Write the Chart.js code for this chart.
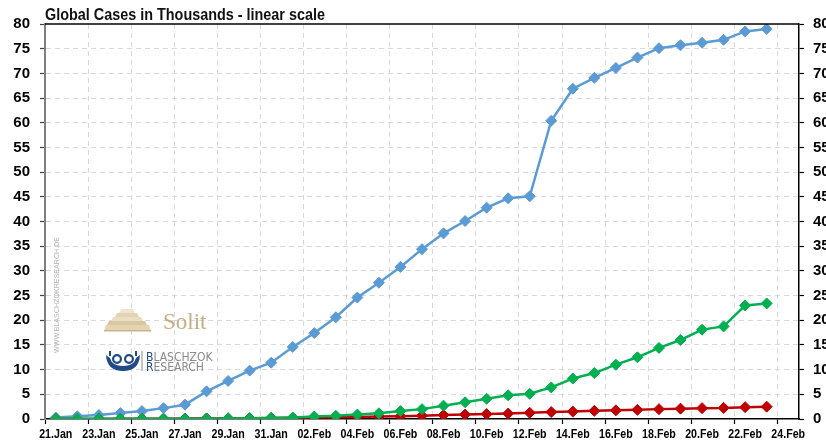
<!DOCTYPE html>
<html>
<head>
<meta charset="utf-8">
<script src="https://cdn.jsdelivr.net/npm/chart.js@4"></script>
<style>
  html, body { margin: 0; padding: 0; background: #fff; overflow: hidden; width: 826px; height: 441px; }
  #wrap { position: relative; width: 860px; height: 441px; }
</style>
</head>
<body>
<div id="wrap"><canvas id="c" width="860" height="441"></canvas></div>
<script>
// Daily dates on the category axis (the last one carries no data)
const categories = [
  '21.Jan','22.Jan','23.Jan','24.Jan','25.Jan','26.Jan','27.Jan','28.Jan','29.Jan','30.Jan','31.Jan',
  '01.Feb','02.Feb','03.Feb','04.Feb','05.Feb','06.Feb','07.Feb','08.Feb','09.Feb','10.Feb',
  '11.Feb','12.Feb','13.Feb','14.Feb','15.Feb','16.Feb','17.Feb','18.Feb','19.Feb','20.Feb',
  '21.Feb','22.Feb','23.Feb','24.Feb'
];

// Global cases, in thousands
const confirmed = [
  0.3, 0.55, 0.8, 1.2, 1.6, 2.2, 2.9, 5.6, 7.7, 9.8, 11.4,
  14.6, 17.4, 20.6, 24.6, 27.6, 30.8, 34.4, 37.6, 40.1, 42.8,
  44.7, 45.1, 60.4, 66.9, 69.1, 71.1, 73.2, 75.1, 75.7, 76.2,
  76.8, 78.5, 79.0
];
const recovered = [
  0.03, 0.03, 0.03, 0.04, 0.04, 0.05, 0.06, 0.1, 0.12, 0.14, 0.22,
  0.28, 0.5, 0.65, 0.9, 1.15, 1.6, 2.0, 2.7, 3.4, 4.1,
  4.8, 5.1, 6.4, 8.2, 9.3, 11.0, 12.5, 14.4, 16.0, 18.1,
  18.75, 23.0, 23.4
];
const deaths = [
  0.01, 0.01, 0.02, 0.03, 0.04, 0.06, 0.08, 0.11, 0.13, 0.17, 0.21,
  0.26, 0.3, 0.36, 0.43, 0.49, 0.56, 0.65, 0.8, 0.9, 1.0,
  1.1, 1.25, 1.4, 1.5, 1.65, 1.75, 1.85, 2.0, 2.1, 2.2,
  2.25, 2.4, 2.5
];

const yTicks = { min: 0, max: 80, step: 5 };
const titleText = 'Global Cases in Thousands - linear scale';

const NARROW = "'DejaVu Sans Condensed',sans-serif";
const SANS = "'Liberation Sans',Arial,sans-serif";
const GRID = '#d9d9d9';
const CLEAR = 'rgba(0,0,0,0)';

// every second date gets a grid line, tick mark and label
const everyOther = c => (c.index % 2 === 0);
const yGridColor = c => (c.tick && (c.tick.value === yTicks.min || c.tick.value === yTicks.max)) ? CLEAR : GRID;

// Title, condensed date labels, top frame line and the watermark logos
const decor = {
  id: 'decor',
  beforeDatasetsDraw(chart) {
    const ctx = chart.ctx;
    ctx.save();
    // vertical web address
    ctx.save();
    ctx.translate(57, 353);
    ctx.rotate(-Math.PI / 2);
    ctx.font = '7px ' + SANS;
    ctx.fillStyle = '#b4b4b4';
    ctx.textBaseline = 'middle';
    const url = 'WWW.BLASCHZOKRESEARCH.DE';
    const w = ctx.measureText(url).width;
    ctx.scale(116 / w, 1);
    ctx.fillText(url, 0, 0);
    ctx.restore();

    // stepped pyramid
    const layers = [
      [119, 135, 309, 313, '#eee4cf'],
      [115, 139, 313, 317, '#e2d3b3'],
      [111, 143, 317, 321, '#e9ddc4'],
      [107, 147, 321, 325, '#d9c7a0'],
      [104, 151, 325, 331, '#e3d4b4']
    ];
    layers.forEach(([l, r, t, b, col]) => {
      ctx.fillStyle = col;
      ctx.beginPath();
      ctx.moveTo(l + 2, t);
      ctx.lineTo(r - 2, t);
      ctx.lineTo(r, b);
      ctx.lineTo(l, b);
      ctx.closePath();
      ctx.fill();
    });
    ctx.fillStyle = '#c9b48a';
    ctx.fillRect(104, 330, 47, 1.5);
    ctx.font = '23px "Liberation Serif","DejaVu Serif",serif';
    ctx.fillStyle = '#c4ae86';
    ctx.textBaseline = 'alphabetic';
    ctx.fillText('Solit', 163, 329);

    // ship emblem
    ctx.fillStyle = '#1f4b86';
    ctx.beginPath();
    ctx.moveTo(106, 355);
    ctx.quadraticCurveTo(107, 371, 123, 371);
    ctx.quadraticCurveTo(139, 371, 140, 355);
    ctx.lineTo(136, 358);
    ctx.quadraticCurveTo(134, 366, 123, 366);
    ctx.quadraticCurveTo(112, 366, 110, 358);
    ctx.closePath();
    ctx.fill();
    ctx.beginPath();
    ctx.arc(117, 359, 5, 0, Math.PI * 2);
    ctx.arc(129, 359, 5, 0, Math.PI * 2);
    ctx.fill();
    ctx.fillStyle = '#ffffff';
    ctx.beginPath();
    ctx.arc(117, 359, 2.8, 0, Math.PI * 2);
    ctx.arc(129, 359, 2.8, 0, Math.PI * 2);
    ctx.fill();
    ctx.fillStyle = '#1f4b86';
    ctx.fillRect(109, 351, 2, 5);
    ctx.fillRect(135, 351, 2, 5);
    ctx.fillStyle = '#8a8a8a';
    ctx.fillRect(141.5, 351, 1, 20);

    ctx.font = '12px ' + NARROW;
    ctx.textBaseline = 'alphabetic';
    const writeWord = (first, rest, y) => {
      ctx.fillStyle = '#1f4b86';
      ctx.fillText(first, 146, y);
      const fw = ctx.measureText(first).width;
      ctx.fillStyle = '#8a8a8a';
      ctx.fillText(rest, 146 + fw, y);
    };
    writeWord('B', 'LASCHZOK', 361);
    writeWord('R', 'ESEARCH', 371);
    ctx.restore();
  },
  afterDraw(chart) {
    const ctx = chart.ctx;
    const a = chart.chartArea;
    const xs = chart.scales.x;
    ctx.save();
    // top frame line
    ctx.strokeStyle = '#000';
    ctx.lineWidth = 1.5;
    ctx.beginPath();
    ctx.moveTo(a.left, a.top);
    ctx.lineTo(a.right, a.top);
    ctx.stroke();

    // title, condensed bold
    ctx.font = 'bold 16px ' + SANS;
    ctx.fillStyle = '#111';
    ctx.textBaseline = 'alphabetic';
    ctx.textAlign = 'left';
    const tw = ctx.measureText(titleText).width;
    ctx.save();
    ctx.translate(a.left, 20);
    ctx.scale(280 / tw, 1);
    ctx.fillText(titleText, 0, 0);
    ctx.restore();

    // date labels under every second category, condensed bold
    ctx.font = 'bold 13px ' + SANS;
    ctx.fillStyle = '#000';
    ctx.textAlign = 'center';
    categories.forEach((lab, i) => {
      if (i % 2) return;
      ctx.save();
      ctx.translate(xs.getPixelForValue(i), 437.5);
      ctx.scale(0.82, 1);
      ctx.fillText(lab, 0, 0);
      ctx.restore();
    });
    ctx.restore();
  }
};

const series = (label, data, color) => ({
  label, data,
  borderColor: color,
  backgroundColor: color,
  pointBackgroundColor: color,
  pointBorderColor: color,
  borderWidth: 2.5,
  pointStyle: 'rectRot',
  pointRadius: 5.5,
  pointBorderWidth: 1,
  tension: 0,
  yAxisID: 'y'
});

new Chart(document.getElementById('c'), {
  type: 'line',
  data: {
    labels: categories,
    datasets: [
      series('Recovered', recovered, '#00B050'),
      series('Deaths', deaths, '#C00000'),
      series('Confirmed', confirmed, '#5B9BD5')
    ]
  },
  options: {
    responsive: false,
    animation: false,
    devicePixelRatio: 1,
    layout: { padding: { top: 24, left: 0, right: 0, bottom: 0 } },
    plugins: { legend: { display: false }, tooltip: { enabled: false }, title: { display: false } },
    scales: {
      x: {
        type: 'category',
        offset: true,
        grid: {
          offset: true, lineWidth: 1, tickLength: 5, tickWidth: 1.2,
          color: c => everyOther(c) ? GRID : CLEAR,
          tickColor: c => everyOther(c) ? '#000' : CLEAR
        },
        border: { display: true, color: '#000', width: 1.5, dash: [5, 4] },
        ticks: { display: false, autoSkip: false, maxRotation: 0, minRotation: 0 },
        afterFit: s => { s.height = 22; }
      },
      y: {
        position: 'left',
        min: yTicks.min, max: yTicks.max,
        grid: { color: yGridColor, lineWidth: 1, tickLength: 5, tickColor: '#404040', tickWidth: 1.2 },
        border: { display: true, color: '#7f7f7f', width: 2, dash: [5, 4] },
        ticks: { stepSize: yTicks.step, padding: 10, color: '#000', font: { family: SANS, size: 15, weight: 'bold' } },
        afterFit: s => { s.width = 45; }
      },
      y2: {
        position: 'right',
        min: yTicks.min, max: yTicks.max,
        grid: { drawOnChartArea: false, tickLength: 5, tickColor: '#000', tickWidth: 1.2 },
        border: { display: true, color: '#000', width: 1.5 },
        ticks: { stepSize: yTicks.step, padding: 9, color: '#000', font: { family: SANS, size: 15, weight: 'bold' } },
        afterFit: s => { s.width = 61; }
      }
    }
  },
  plugins: [decor]
});
</script>
</body>
</html>
